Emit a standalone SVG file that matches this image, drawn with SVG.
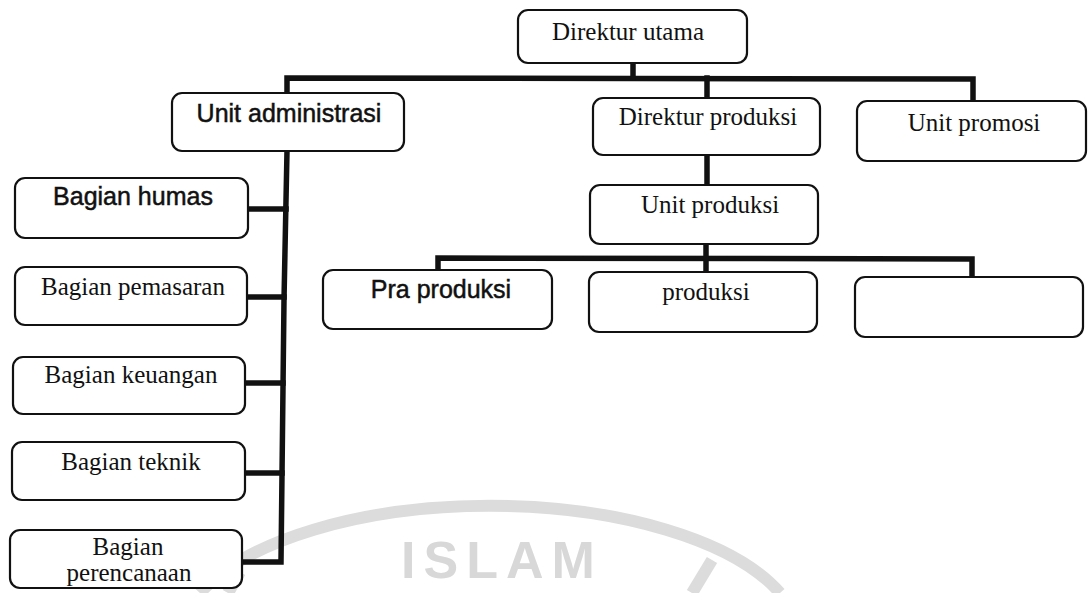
<svg xmlns="http://www.w3.org/2000/svg" width="1088" height="593" viewBox="0 0 1088 593">
  <style>
    .box { fill: #ffffff; stroke: #111111; stroke-width: 2.2; }
    .serif { font-family: "Liberation Serif", "Times New Roman", serif; font-size: 25px; fill: #111111; text-anchor: middle; }
    .sans { font-family: "Liberation Sans", Arial, sans-serif; font-size: 25px; fill: #111111; stroke: #111111; stroke-width: 0.5; text-anchor: middle; }
    .wire { fill: none; stroke: #111111; stroke-width: 5.5; stroke-linecap: square; stroke-linejoin: miter; }
    .mark { fill: none; stroke: #dcdcdc; stroke-width: 12; }
  </style>

  <rect width="1088" height="593" fill="#ffffff"/>

  <!-- faint emblem behind the chart -->
  <g id="emblem">
    <path class="mark" d="M 200 593 A 310 135 0 0 1 780 593"/>
    <path class="mark" d="M 240 572 L 228 593" stroke-width="9"/>
    <path class="mark" d="M 712 560 L 692 593" stroke-width="9"/>
    <text x="502" y="578" font-family="Liberation Sans, Arial, sans-serif" font-size="52" font-weight="bold" fill="#d8d8d8" text-anchor="middle" letter-spacing="8">ISLAM</text>
  </g>

  <!-- connectors -->
  <g id="connectors">
    <polyline class="wire" points="287,93 287,78 973,79 973,100"/>
    <line class="wire" x1="633" y1="63" x2="633" y2="78"/>
    <line class="wire" x1="707" y1="78" x2="707" y2="98"/>
    <line class="wire" x1="707" y1="155" x2="707" y2="185"/>
    <polyline class="wire" points="438,270 438,258 972,259 972,277"/>
    <line class="wire" x1="706" y1="244" x2="706" y2="272"/>
    <polyline class="wire" points="287,151 284,300 281,562 242,562"/>
    <line class="wire" x1="248" y1="209" x2="286" y2="209"/>
    <line class="wire" x1="247" y1="297" x2="284" y2="297"/>
    <line class="wire" x1="245" y1="383" x2="283" y2="383"/>
    <line class="wire" x1="245" y1="473" x2="282" y2="473"/>
  </g>

  <g id="direktur-utama">
    <rect class="box" x="518" y="10" width="229" height="53" rx="10"/>
    <text class="serif" x="628" y="40" font-size="27">Direktur utama</text>
  </g>

  <g id="unit-administrasi">
    <rect class="box" x="172" y="93" width="232" height="58" rx="10"/>
    <text class="sans" x="289" y="122">Unit administrasi</text>
  </g>

  <g id="direktur-produksi">
    <rect class="box" x="593" y="98" width="227" height="57" rx="10"/>
    <text class="serif" x="708" y="125">Direktur produksi</text>
  </g>

  <g id="unit-promosi">
    <rect class="box" x="857" y="101" width="229" height="60" rx="10"/>
    <text class="serif" x="974" y="131">Unit promosi</text>
  </g>

  <g id="unit-produksi">
    <rect class="box" x="590" y="185" width="228" height="59" rx="10"/>
    <text class="serif" x="710" y="213">Unit produksi</text>
  </g>

  <g id="pra-produksi">
    <rect class="box" x="323" y="270" width="229" height="59" rx="10"/>
    <text class="sans" x="441" y="298">Pra produksi</text>
  </g>

  <g id="produksi">
    <rect class="box" x="589" y="272" width="228" height="60" rx="10"/>
    <text class="serif" x="706" y="300">produksi</text>
  </g>

  <g id="unit-kosong">
    <rect class="box" x="855" y="277" width="228" height="60" rx="10"/>
  </g>

  <g id="bagian-humas">
    <rect class="box" x="15" y="178" width="233" height="60" rx="10"/>
    <text class="sans" x="133" y="205">Bagian humas</text>
  </g>

  <g id="bagian-pemasaran">
    <rect class="box" x="15" y="267" width="232" height="58" rx="10"/>
    <text class="serif" x="133" y="295">Bagian pemasaran</text>
  </g>

  <g id="bagian-keuangan">
    <rect class="box" x="13" y="357" width="232" height="57" rx="10"/>
    <text class="serif" x="131" y="383">Bagian keuangan</text>
  </g>

  <g id="bagian-teknik">
    <rect class="box" x="12" y="442" width="233" height="58" rx="10"/>
    <text class="serif" x="131" y="470">Bagian teknik</text>
  </g>

  <g id="bagian-perencanaan">
    <rect class="box" x="10" y="530" width="232" height="58" rx="10"/>
    <text class="serif" x="128" y="555">Bagian</text>
    <text class="serif" x="129" y="581">perencanaan</text>
  </g>
</svg>
